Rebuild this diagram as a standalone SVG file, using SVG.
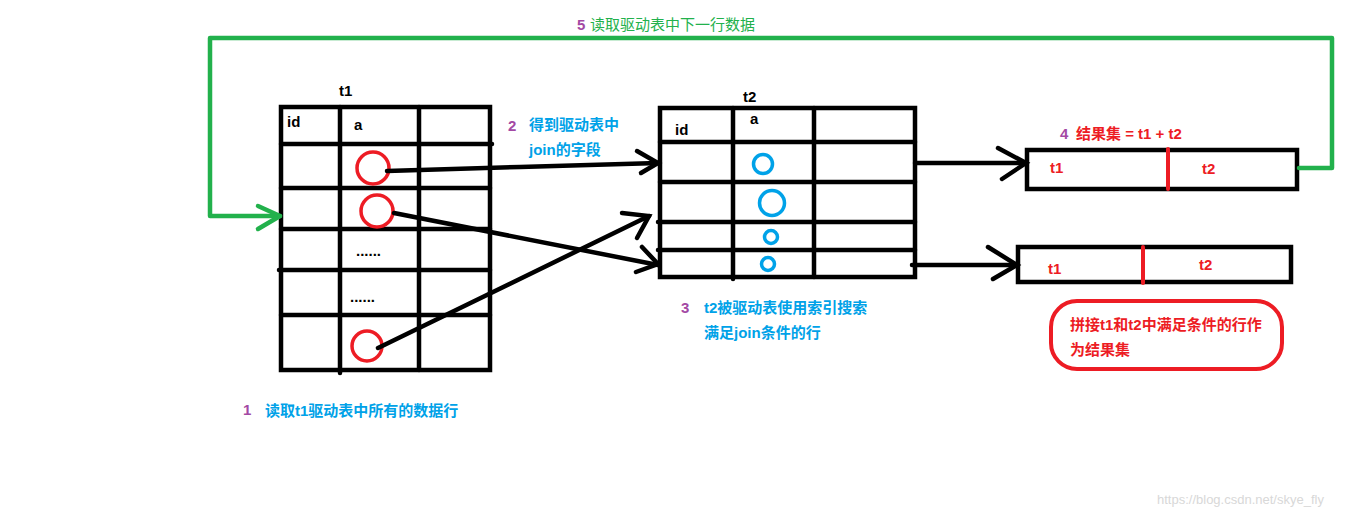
<svg xmlns="http://www.w3.org/2000/svg" width="1370" height="517" viewBox="0 0 1370 517">
<style>
.tb{fill:none;stroke:#000;stroke-width:4.5}
.ln{stroke:#000;stroke-width:4.5;stroke-linecap:round;fill:none}
.g{stroke:#22b14c;stroke-width:4.5;stroke-linecap:round;stroke-linejoin:round;fill:none}
.rc{fill:none;stroke:#ed1c24;stroke-width:3.5}
.bc{fill:none;stroke:#00a2e8;stroke-width:3.5}
.rd{stroke:#ed1c24;stroke-width:4;stroke-linecap:round}
.t{font-family:"Liberation Sans","Noto Sans CJK SC",sans-serif;font-weight:bold;font-size:15px}
.hd{fill:#000}
.num{fill:#a349a4}
.blue{fill:#00a2e8}
.red{fill:#ed1c24}
.grn{fill:#22b14c;font-weight:normal}
</style>
<rect width="1370" height="517" fill="#fff"/>

<g id="t1">
<rect class="tb" x="281" y="107" width="209" height="263"/>
<line class="ln" x1="340" y1="107" x2="340" y2="373"/>
<line class="ln" x1="419" y1="107" x2="419" y2="370"/>
<line class="ln" x1="281" y1="144" x2="492" y2="144"/>
<line class="ln" x1="281" y1="188" x2="490" y2="188"/>
<line class="ln" x1="281" y1="229" x2="490" y2="229"/>
<line class="ln" x1="279" y1="270" x2="490" y2="270"/>
<line class="ln" x1="281" y1="315" x2="490" y2="315"/>
<text class="t hd" x="339" y="96">t1</text>
<text class="t hd" x="287" y="127">id</text>
<text class="t hd" x="354" y="130">a</text>
<circle class="rc" cx="373" cy="168" r="16"/>
<circle class="rc" cx="377" cy="211" r="16"/>
<circle class="rc" cx="367" cy="346" r="15"/>
<text class="t hd" x="356" y="256" font-size="12">......</text>
<text class="t hd" x="350" y="302" font-size="12">......</text>
</g>

<g id="t2">
<rect class="tb" x="660" y="108" width="255" height="169"/>
<line class="ln" x1="733" y1="108" x2="733" y2="279"/>
<line class="ln" x1="814" y1="108" x2="814" y2="277"/>
<line class="ln" x1="660" y1="142" x2="915" y2="142"/>
<line class="ln" x1="660" y1="182" x2="915" y2="182"/>
<line class="ln" x1="658" y1="222" x2="915" y2="222"/>
<line class="ln" x1="658" y1="250" x2="915" y2="250"/>
<text class="t hd" x="743" y="102">t2</text>
<text class="t hd" x="675" y="135">id</text>
<text class="t hd" x="750" y="124">a</text>
<circle class="bc" cx="763" cy="164" r="9.5"/>
<circle class="bc" cx="772" cy="203" r="12.5"/>
<circle class="bc" cx="771" cy="237" r="6.5"/>
<circle class="bc" cx="768" cy="264" r="6.5"/>
</g>

<g id="result1">
<rect class="tb" x="1027" y="150" width="270" height="39"/>
<line class="rd" x1="1168" y1="149" x2="1168" y2="189"/>
<text class="t red" x="1050" y="173">t1</text>
<text class="t red" x="1202" y="174">t2</text>
<text class="t num" x="1060" y="139">4</text>
<text class="t red" x="1076" y="139">结果集 = t1 + t2</text>
</g>

<g id="result2">
<rect class="tb" x="1018" y="247" width="273" height="35"/>
<line class="rd" x1="1143" y1="247" x2="1143" y2="283"/>
<text class="t red" x="1048" y="274">t1</text>
<text class="t red" x="1199" y="270">t2</text>
</g>

<g id="note">
<rect x="1051" y="301" width="231" height="68" rx="26" ry="26" fill="none" stroke="#ed1c24" stroke-width="4"/>
<text class="t red" x="1070" y="330">拼接t1和t2中满足条件的行作</text>
<text class="t red" x="1070" y="355">为结果集</text>
</g>

<g id="labels">
<text class="t num" x="243" y="415">1</text>
<text class="t blue" x="265" y="416">读取t1驱动表中所有的数据行</text>
<text class="t num" x="508" y="131">2</text>
<text class="t blue" x="529" y="130">得到驱动表中</text>
<text class="t blue" x="529" y="155">join的字段</text>
<text class="t num" x="681" y="313">3</text>
<text class="t blue" x="704" y="313">t2被驱动表使用索引搜索</text>
<text class="t blue" x="704" y="338">满足join条件的行</text>
<text class="t num" x="577" y="30">5</text>
<text class="t grn" x="590" y="30">读取驱动表中下一行数据</text>
</g>

<g id="connectors">
<polyline class="ln" points="387,171 520,167 658,163"/>
<polyline class="ln" points="637,151 658,163 641,173"/>
<line class="ln" x1="394" y1="213" x2="658" y2="265"/>
<polyline class="ln" points="642,247 658,264 636,272"/>
<line class="ln" x1="378" y1="348" x2="649" y2="216"/>
<polyline class="ln" points="622,213 649,216 637,238"/>
<line class="ln" x1="915" y1="163" x2="1026" y2="163"/>
<polyline class="ln" points="998,148 1026,163 1002,179"/>
<line class="ln" x1="912" y1="265" x2="1017" y2="265"/>
<polyline class="ln" points="988,247 1017,265 993,279"/>
<polyline class="g" points="1299,168 1332,168 1332,38 210,38 210,216 280,216"/>
<polyline class="g" points="258,206 280,216 258,229"/>
</g>

<text x="1157" y="504" font-family="Liberation Sans,sans-serif" font-size="13" fill="#d8d8d8">https://blog.csdn.net/skye_fly</text>
</svg>
